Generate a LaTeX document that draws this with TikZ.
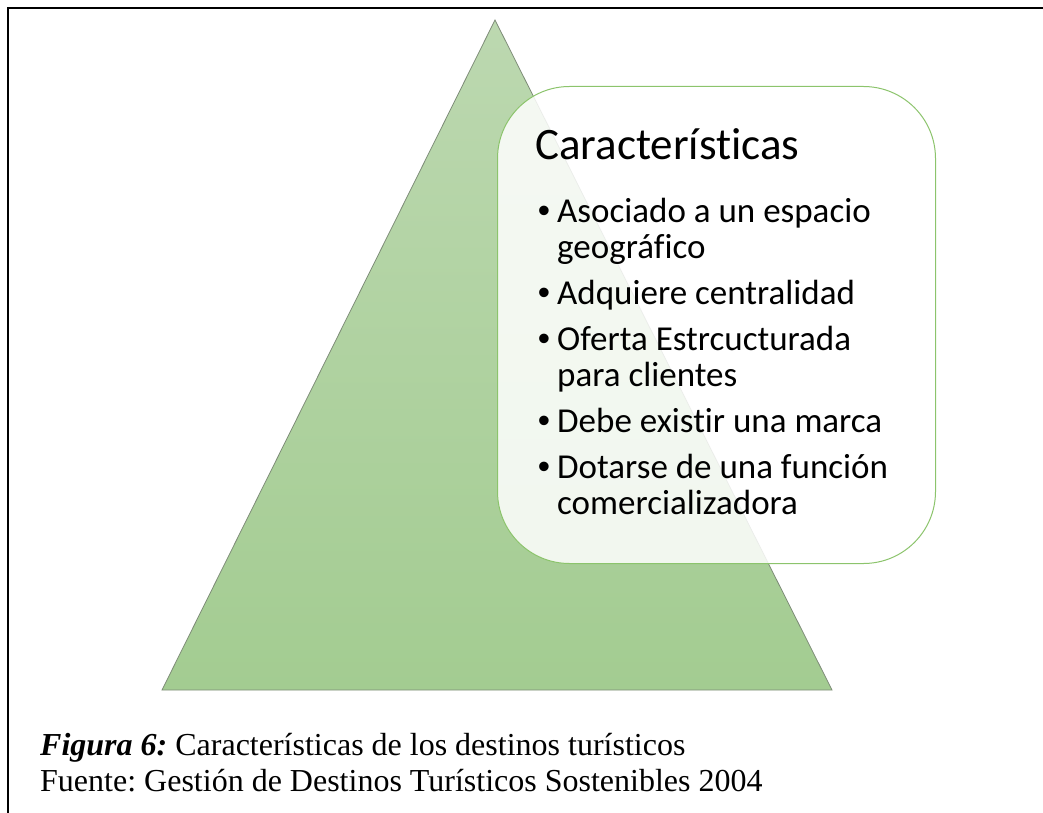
\documentclass[tikz,border=0pt]{standalone}
\usepackage{fontspec}
\setmainfont{Liberation Serif}
\newfontfamily\calibrifont[Ligatures=NoCommon]{Carlito}
\newfontfamily\bulletfont{Liberation Sans}
\usepackage{tikz}
\usepackage{xcolor}
\usetikzlibrary{positioning}
\definecolor{pyramid-top}{HTML}{BCD8B0}
\definecolor{pyramid-bottom}{HTML}{A3CC91}
\definecolor{pyramid-edge}{HTML}{7E8C78}
\definecolor{box-green}{HTML}{8CC46C}
\tikzset{
    frame-line/.style = {draw=black, line width=2.2pt},
    pyramid/.style = {draw=pyramid-edge, line width=0.8pt, top color=pyramid-top, bottom color=pyramid-bottom},
    rounded-box/.style = {draw=box-green, fill=white, fill opacity=0.85, line width=1pt, rectangle, rounded corners=72pt, minimum width=438pt, minimum height=477pt, inner sep=0pt},
    box-title/.style = {font=\calibrifont\fontsize{45}{50}\selectfont, inner sep=0pt},
    box-list/.style = {font=\calibrifont\fontsize{35}{36}\selectfont, inner sep=0pt},
    caption-text/.style = {font=\fontsize{32}{36}\selectfont, inner sep=0pt},
}

\begin{document}
\frenchspacing
\begin{tikzpicture}[x=1pt,y=-1pt]
\useasboundingbox (0,0) rectangle (1043,813);
% frame
\draw[frame-line] (1043,8) -- (8,8) -- (8,813);
% pyramid
\coordinate (apex) at (495,20);
\coordinate (base-left) at (162,690);
\coordinate (base-right) at (832,690);
\draw[pyramid] (apex) -- (base-right) -- (base-left) -- cycle;
% box with the list
\node [rounded-box, anchor=north west] (box) at (497,86) {};
\node [box-title, anchor=base west] (title) at (535,160) {Características};
\node [box-list, anchor=north west] (list) at (537,198) {\begin{minipage}{370pt}\raggedright
    \setlength{\leftmargini}{20pt}
    \setlength{\topsep}{0pt}
    \renewcommand{\labelitemi}{{\bulletfont\textbullet}}
    \begin{itemize}
        \setlength{\labelsep}{7pt}
        \setlength{\itemsep}{6pt}
        \setlength{\parsep}{0pt}
        \item Asociado a un espacio geográfico
        \item Adquiere centralidad
        \item Oferta Estrcucturada para clientes
        \item Debe existir una marca
        \item Dotarse de una función comercializadora
    \end{itemize}
\end{minipage}};
% caption
\node [caption-text, anchor=base west] (caption) at (40,755) {\textbf{\textit{Figura 6:}} Características de los destinos turísticos};
\node [caption-text, anchor=base west] (source) at (40,791) {Fuente: Gestión de Destinos Turísticos Sostenibles 2004};
\end{tikzpicture}
\end{document}
